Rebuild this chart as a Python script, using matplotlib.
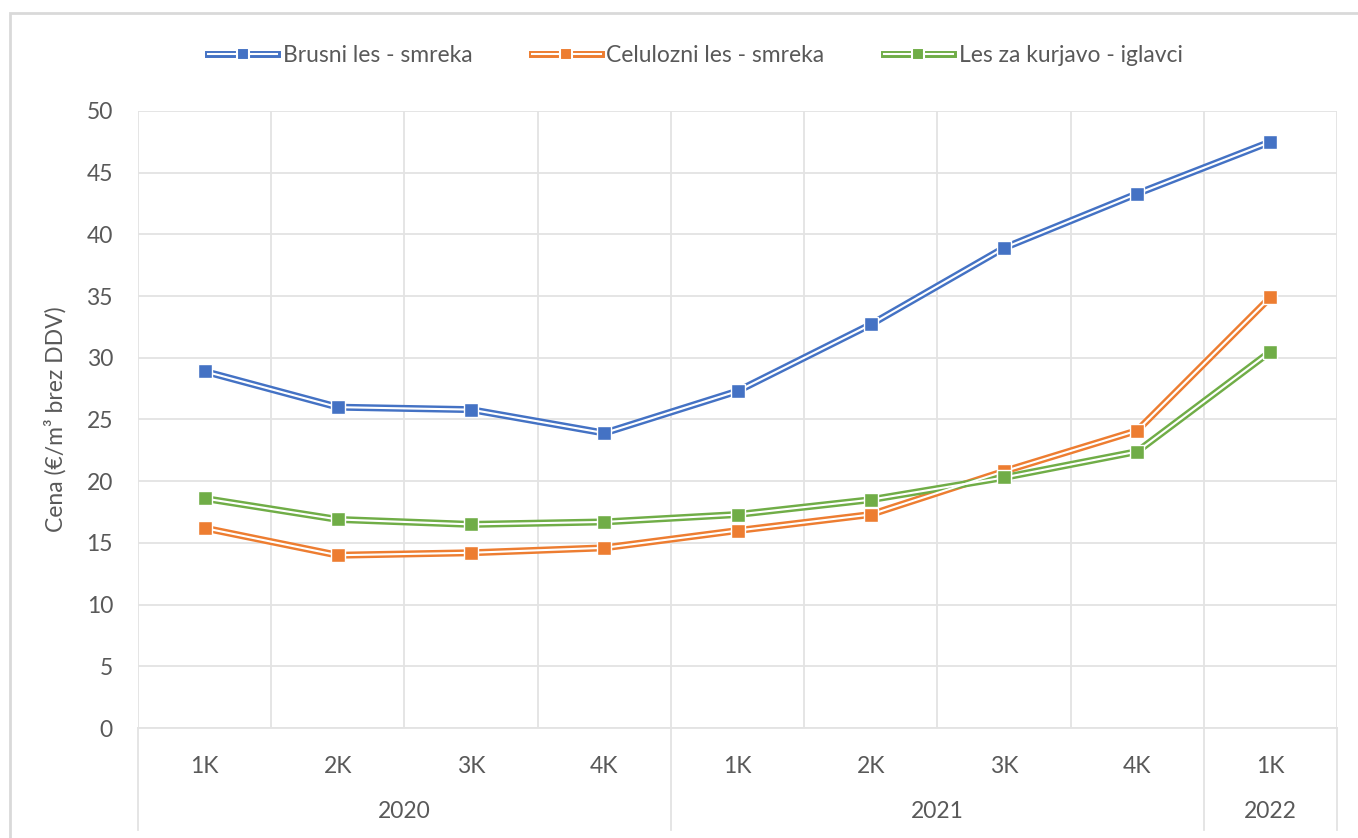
import numpy as np
import matplotlib.pyplot as plt
from matplotlib.lines import Line2D
from matplotlib.patches import Rectangle
from matplotlib.legend_handler import HandlerTuple
import matplotlib.transforms as mtransforms

plt.rcParams['font.family'] = ['Lato', 'DejaVu Sans']

# podatki
kvartali = ['1K', '2K', '3K', '4K', '1K', '2K', '3K', '4K', '1K']
leta = ['2020', '2021', '2022']
leta_n = [4, 4, 1]
brusni = [28.9, 26.0, 25.8, 23.9, 27.3, 32.7, 38.9, 43.3, 47.5]
celulozni = [16.2, 14.0, 14.2, 14.6, 16.0, 17.3, 20.8, 24.1, 34.9]
kurjava = [18.6, 16.9, 16.5, 16.7, 17.3, 18.5, 20.3, 22.4, 30.5]
imena = ['Brusni les - smreka', 'Celulozni les - smreka', 'Les za kurjavo - iglavci']
barve = ['#4472C4', '#ED7D31', '#70AD47']

txt = '#595959'
grid = '#E3E3E3'
fs = 16.5

fig = plt.figure(figsize=(13.58, 8.38), dpi=100)
ax = fig.add_axes([138/1358, 110/838, (1337-138)/1358, (728-111)/838])

x = np.arange(len(kvartali))
handles = []
for y, c in zip([brusni, celulozni, kurjava], barve):
    ax.plot(x, y, color=c, lw=5, solid_capstyle='butt', zorder=3)
    ax.plot(x, y, color='white', lw=1.5, zorder=4)
    ax.plot(x, y, ls='none', marker='s', ms=10, mfc=c, mec='white', mew=1, zorder=5)
    h1 = Line2D([], [], color=c, lw=5)
    h2 = Line2D([], [], color='white', lw=1.5)
    h3 = Line2D([], [], ls='none', marker='s', ms=9, mfc=c, mec='white', mew=1.5)
    handles.append((h1, h2, h3))

ax.set_xlim(-0.5, len(kvartali) - 0.5)
ax.set_ylim(0, 50)
ax.set_yticks(np.arange(0, 51, 5))
ax.set_xticks(np.arange(-0.5, len(kvartali), 1.0))
ax.set_xticklabels([])
ax.grid(True, color=grid, lw=1.3)
ax.tick_params(axis='both', length=0, labelsize=fs, colors=txt, pad=18)
for s in ax.spines.values():
    s.set_color(grid)
    s.set_linewidth(1.3)
ax.spines['left'].set_visible(False)
ax.spines['right'].set_visible(False)
ax.spines['top'].set_visible(False)

trans = mtransforms.blended_transform_factory(ax.transData, ax.transAxes)
for i, k in enumerate(kvartali):
    ax.text(i, -0.062, k, transform=trans, ha='center', va='center', fontsize=fs, color=txt)

start = -0.5
meje = [start]
for leto, n in zip(leta, leta_n):
    ax.text(start + n / 2, -0.136, leto, transform=trans, ha='center', va='center',
            fontsize=fs, color=txt)
    start += n
    meje.append(start)
for m in meje:
    ax.add_line(Line2D([m, m], [0, -0.165], transform=trans, color=grid, lw=1.3, clip_on=False))

ax.set_ylabel('Cena (€/m³ brez DDV)', fontsize=fs, color=txt, labelpad=14)

fig.legend(handles, imena, loc='center', bbox_to_anchor=(0.512, 0.934), ncol=3,
           frameon=False, fontsize=fs, labelcolor=txt, handlelength=3.0,
           handletextpad=0.25, columnspacing=2.6,
           handler_map={tuple: HandlerTuple(ndivide=1)})

fig.patches.append(Rectangle((10/1358, -0.1), 1.2, (838-13)/838 + 0.1, transform=fig.transFigure,
                             fill=False, edgecolor='#D9D9D9', lw=2, zorder=0))

fig.savefig('out.png', dpi=100)
